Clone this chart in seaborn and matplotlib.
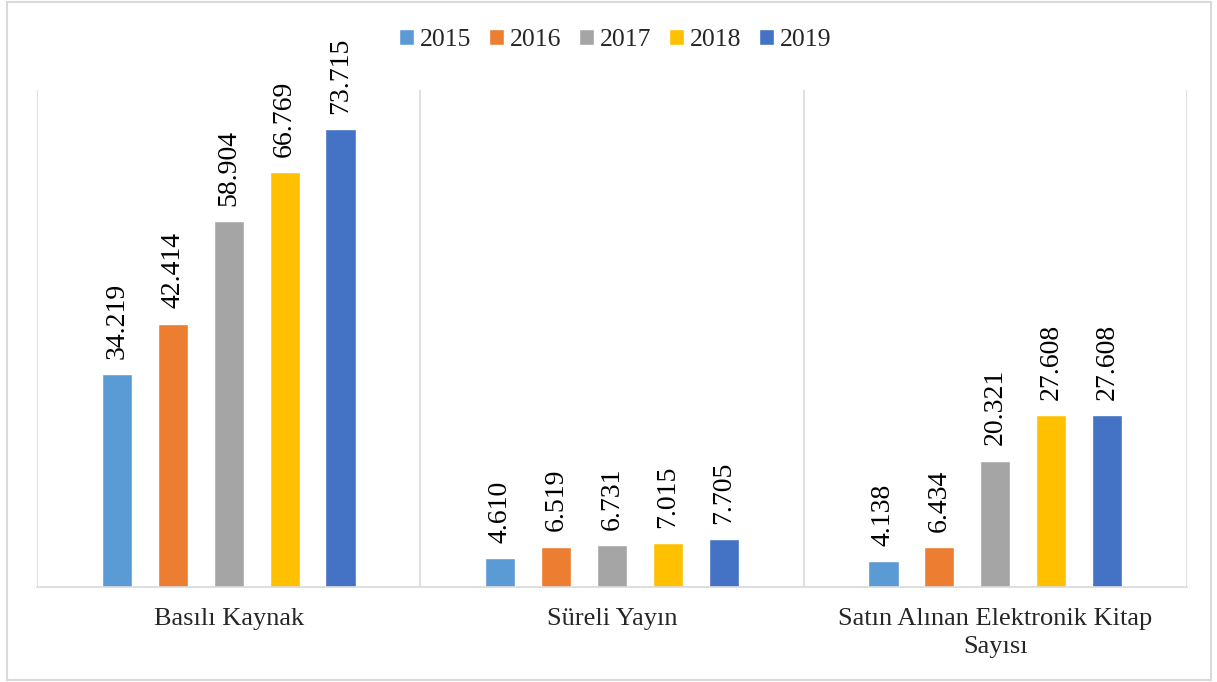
import matplotlib
matplotlib.use("Agg")
import matplotlib.pyplot as plt
import matplotlib.patches as mpatches
import pandas as pd
import seaborn as sns

categories = ["Basılı Kaynak", "Süreli Yayın", "Satın Alınan Elektronik Kitap\nSayısı"]
years = ["2015", "2016", "2017", "2018", "2019"]
v2015 = [34.219, 4.610, 4.138]
v2016 = [42.414, 6.519, 6.434]
v2017 = [58.904, 6.731, 20.321]
v2018 = [66.769, 7.015, 27.608]
v2019 = [73.715, 7.705, 27.608]
colors = ["#5B9BD5", "#ED7D31", "#A5A5A5", "#FFC000", "#4472C4"]

rows = []
for year, vals in zip(years, [v2015, v2016, v2017, v2018, v2019]):
    for cat, v in zip(categories, vals):
        rows.append({"cat": cat, "year": year, "value": v})
df = pd.DataFrame(rows)

sns.set_style("white")
plt.rcParams["font.family"] = ["Liberation Serif", "DejaVu Serif"]

fig = plt.figure(figsize=(12.17, 6.82), dpi=100)
ax = fig.add_axes([37 / 1217, 1 - 587 / 682, 1150 / 1217, 497 / 682])

sns.barplot(
    data=df, x="cat", y="value", hue="year", order=categories, hue_order=years,
    palette=colors, width=0.73, gap=0.46, saturation=1, ax=ax, legend=True,
)

for cont in ax.containers:
    ax.bar_label(cont, labels=[f"{v:.3f}" for v in cont.datavalues],
                 rotation=90, padding=11, fontsize=20, color="#000000")

ax.set_ylim(0, 80)
ax.set_xlim(-0.5, 2.5)
for x in [-0.5, 0.5, 1.5, 2.5]:
    ax.axvline(x, color="#D9D9D9", lw=1.2, zorder=0)
for side in ["top", "left", "right"]:
    ax.spines[side].set_visible(False)
ax.spines["bottom"].set_color("#D9D9D9")
ax.spines["bottom"].set_linewidth(1.2)
ax.set_yticks([])
ax.set_xlabel("")
ax.set_ylabel("")
ax.tick_params(axis="x", length=0, pad=15, labelsize=19)
for lbl in ax.get_xticklabels():
    lbl.set_linespacing(1.35)

handles, labels = ax.get_legend_handles_labels()
ax.get_legend().remove()
fig.legend(handles, labels, loc="center", bbox_to_anchor=(615 / 1217, 1 - 40 / 682),
           ncol=5, frameon=False, fontsize=18.5, handlelength=0.6, handleheight=0.6,
           handletextpad=0.2, columnspacing=0.7)

fig.patches.append(mpatches.Rectangle(
    (7 / 1217, 2 / 682), 1204 / 1217, 678 / 682, transform=fig.transFigure,
    fill=False, edgecolor="#D9D9D9", lw=1.5))

fig.savefig("out.png", dpi=100)
